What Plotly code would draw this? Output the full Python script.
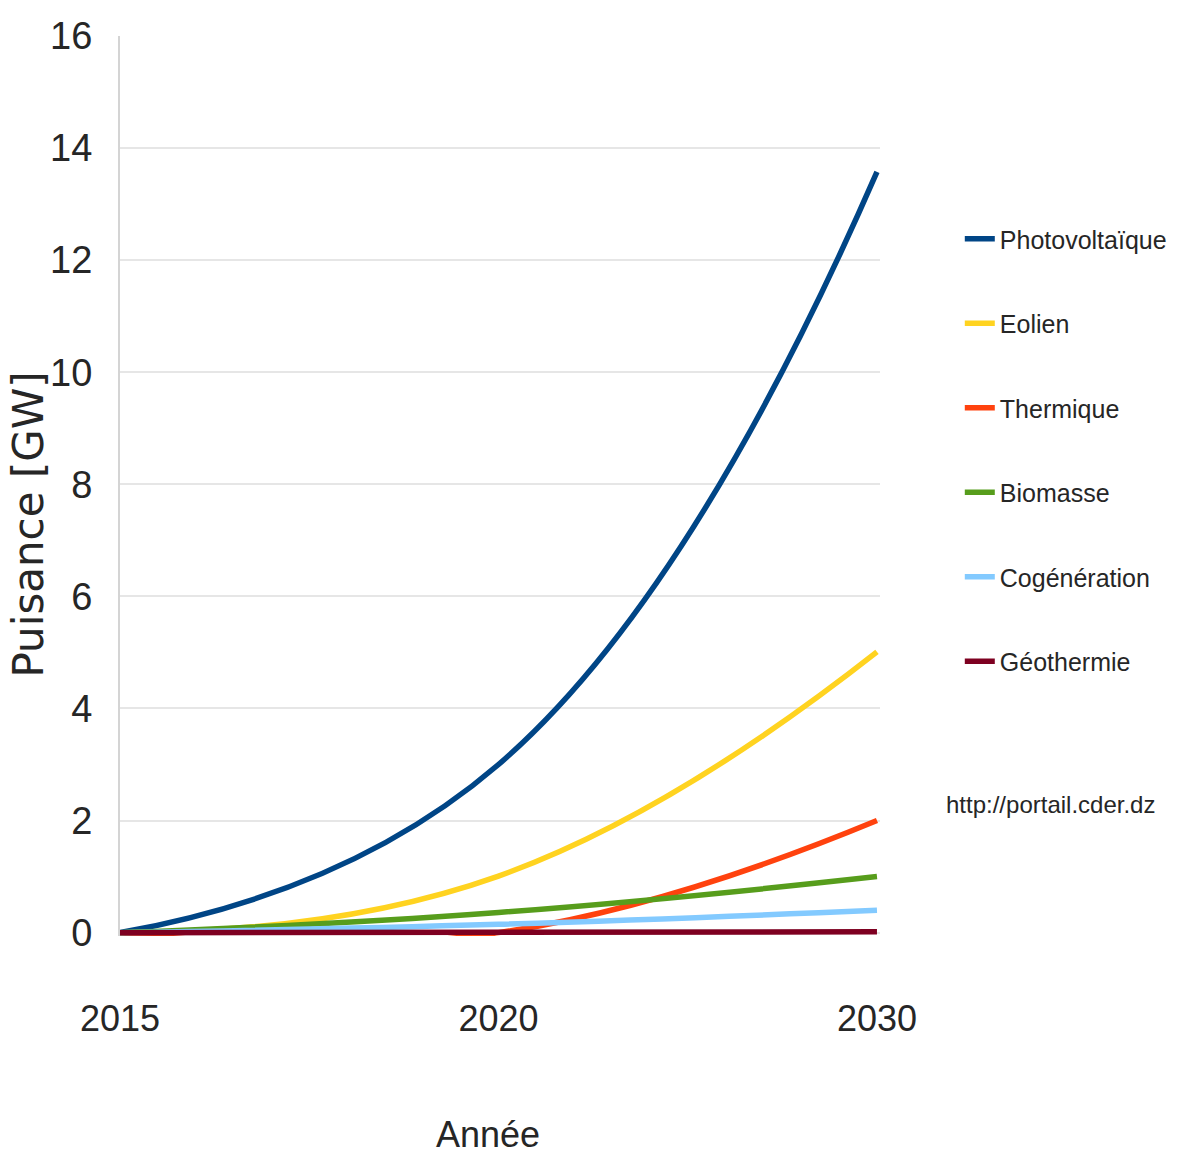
import plotly.graph_objects as go

# Installed capacity plan (GW) at each milestone year
annees = ["2015", "2020", "2030"]
photovoltaique = [0.0, 3.0, 13.575]
eolien = [0.0, 1.01, 5.01]
thermique = [0.0, 0.0, 2.0]
biomasse = [0.0, 0.36, 1.0]
cogeneration = [0.0, 0.15, 0.4]
geothermie = [0.0, 0.005, 0.015]

noms = ["Photovoltaïque", "Eolien", "Thermique", "Biomasse", "Cogénération", "Géothermie"]
series = [photovoltaique, eolien, thermique, biomasse, cogeneration, geothermie]
couleurs = ["#004586", "#ffd320", "#ff420e", "#579d1c", "#83caff", "#7e0021"]
y_ticks = [0, 2, 4, 6, 8, 10, 12, 14, 16]

SANS = "Liberation Sans, Arial, sans-serif"
TXT = "#262626"

fig = go.Figure()
for nom, vals, col in zip(noms, series, couleurs):
    fig.add_trace(go.Scatter(
        x=annees, y=vals, name=nom, mode="lines",
        line=dict(color=col, width=5.5, shape="spline", smoothing=1.3),
        legendgroup=nom,
    ))

fig.update_layout(
    template="none",
    width=1178, height=1160,
    margin=dict(l=120, r=298, t=36, b=224, autoexpand=False),
    paper_bgcolor="white", plot_bgcolor="white",
    showlegend=True,
    legend=dict(
        x=1.105, xanchor="left", y=0.8, yanchor="top",
        font=dict(family=SANS, size=25, color=TXT),
        tracegroupgap=49, itemwidth=30,
        bgcolor="rgba(0,0,0,0)",
    ),
    xaxis=dict(
        type="category", range=[0, 2.008],
        showgrid=False, zeroline=False, showline=False,
        ticks="", ticklabelstandoff=58,
        tickfont=dict(family=SANS, size=36, color=TXT),
        automargin=False,
    ),
    yaxis=dict(
        range=[-0.06, 16], tickvals=y_ticks,
        showgrid=True, gridcolor="#e6e6e6", gridwidth=2,
        zeroline=False,
        showline=True, linecolor="#d4d4d4", linewidth=2,
        ticks="", ticklabelstandoff=18,
        tickfont=dict(family=SANS, size=38, color=TXT),
        automargin=False,
    ),
    annotations=[
        dict(text="Puisance [GW]", textangle=-90, xref="paper", yref="paper",
             x=-0.12, y=0.457, xanchor="center", yanchor="middle", showarrow=False,
             font=dict(family="DejaVu Sans, sans-serif", size=42, color=TXT)),
        dict(text="Année", xref="paper", yref="paper", x=0.484, y=-0.221,
             xanchor="center", yanchor="middle",
             showarrow=False, font=dict(family=SANS, size=36, color=TXT)),
        dict(text="http://portail.cder.dz", xref="paper", yref="paper",
             x=1.224, y=0.1456, xanchor="center", yanchor="middle", showarrow=False,
             font=dict(family=SANS, size=24, color=TXT)),
    ],
)

fig.write_html("out.html")
